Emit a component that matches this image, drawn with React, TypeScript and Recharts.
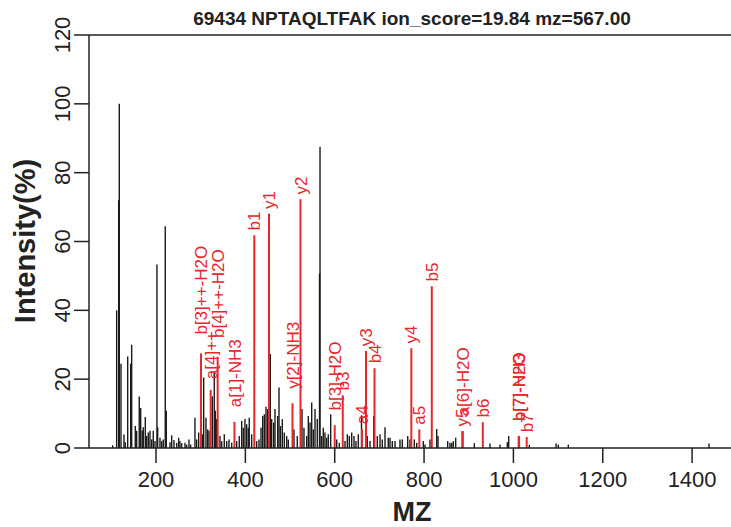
import { ComposedChart, XAxis, YAxis, ReferenceLine, Scatter } from 'recharts';

// unmatched peaks (black)
const peakMz = [
  103, 111.9, 116.4, 117.8, 121.6, 128.3, 131.2, 136.6, 143.3, 145.5, 153.6, 156.7, 162.5, 165.7,
  169.2, 171.5, 176, 179.1, 182.7, 186.5, 190.3, 193.9, 197.7, 202.1, 203.7, 208.9, 212.7, 216.3,
  220.7, 223, 231.3, 235.1, 240.2, 246.3, 250.7, 253.6, 257.4, 264.8, 268.6, 273.8, 277.6, 287.2,
  291, 295.5, 303.6, 306.7, 311.8, 315.6, 318.6, 326, 330.4, 332.7, 335.8, 343.2, 347, 352.8, 358.2,
  363.3, 369.4, 380.6, 386.4, 391.8, 395.3, 399.1, 402.9, 406.5, 408.7, 414.1, 425.3, 430.5, 435,
  438.8, 442.4, 446.2, 450, 455.8, 458.9, 463.4, 466.3, 472.4, 475.3, 478.6, 482.7, 487.1, 492.5,
  496.1, 508.8, 516.2, 526.8, 531.2, 537.3, 540.9, 544.7, 548.5, 552.1, 555.9, 561, 566, 567.1,
  570.9, 574.4, 578.2, 582, 585.6, 591, 604.4, 610.3, 623, 628.2, 632.7, 638, 643.2, 647.6, 652.8,
  660, 673, 679, 687.3, 695.3, 701.4, 706.5, 712.6, 719.9, 723.8, 728.9, 735, 746.1, 751.3, 763.4,
  768.5, 778.2, 783.5, 798.3, 802.1, 813.3, 828.3, 831.2, 852.9, 858.1, 861.9, 865.5, 870.8, 912.5,
  947.6, 970, 986.4, 989.5, 1035.6, 1095.4, 1100.5, 1122.9, 1437.9,
];
const peakIntensity = [
  0.8, 40, 72, 100, 24.5, 3.9, 1.7, 26.6, 24.5, 30, 6.4, 5, 15, 11.6,
  5, 6, 9, 3.5, 4.5, 5, 2.5, 5, 2, 53.3, 6, 3, 2, 2.5,
  64.4, 10.8, 1.7, 3.7, 2.3, 1.5, 3, 2, 1.4, 1.5, 1, 2.5, 1, 8.8,
  2.5, 4.5, 4, 20.5, 8.8, 5.4, 5, 15, 22, 10.8, 8.4, 3.5, 2, 4, 2,
  2.5, 1.5, 2, 3.5, 7.9, 5.9, 8.4, 6.9, 5.9, 8.8, 4, 2, 2.5, 5.9,
  9.3, 9.8, 12, 11.3, 27.3, 8.4, 7.4, 11.3, 9.3, 17.6, 6.4, 8.4, 4.5, 3.5,
  2.5, 5.4, 3.5, 11.3, 5.9, 3.5, 9.3, 7.4, 13.2, 5.4, 11.3, 8.4, 50.7, 87.5,
  3.5, 5.9, 4.5, 3, 4, 9.8, 2.5, 1.5, 2, 4, 3.5, 4.5, 3.5, 2, 4,
  9.5, 3.5, 2, 9.3, 3.5, 4, 2.5, 6, 3, 3, 2, 2, 2.5, 2.5, 3.5,
  2.5, 2.5, 1.5, 2, 1, 2.5, 5.5, 3.5, 2, 1.5, 1.5, 2, 3, 1.4,
  1.3, 1, 1.7, 3.5, 0.9, 1.3, 1, 1, 1.3,
];

// matched fragment ions (red)
const ionLabels = [
  'b[3]++-H2O', 'a[4]++', 'b[4]++-H2O', 'a[1]-NH3', 'b1', 'y1', 'y[2]-NH3', 'y2', 'b[3]-H2O', 'b3',
  'a4', 'y3', 'b4', 'y4', 'a5', 'b5', 'y5', 'a[6]-H2O', 'b6', 'b[7]-H2O', 'b[7]-NH3', 'b7',
];
const ionMz = [
  300.7, 322.4, 338, 375.6, 420, 452.9, 505.5, 523.4, 600, 618,
  661, 670, 689.1, 771.5, 789.4, 817.3, 885.6, 886.7, 931.5, 1011.7, 1012.7, 1029.7,
];
const ionIntensity = [
  27.5, 16.9, 26.5, 7.6, 61.8, 68.1, 13, 72.3, 6.6, 15.3,
  5.5, 28.2, 23.2, 29, 5.4, 47, 4.9, 4.9, 7.5, 3.5, 3.5, 3.2,
];

const xTicks = [200, 400, 600, 800, 1000, 1200, 1400];
const yTicks = [0, 20, 40, 60, 80, 100, 120];

const FONT = '"Liberation Sans", Arial, Helvetica, sans-serif';
const RED = '#e8262b';
const AXIS = '#222';
const LABEL_SIZE = 17;

const peaks = peakMz.map((mz, i) => ({ mz, intensity: peakIntensity[i] }));
const ions = ionMz.map((mz, i) => ({ mz, intensity: ionIntensity[i], label: ionLabels[i] }));

// rough Helvetica widths, used to lift long labels a bit more (like R's adj)
const charWidth: Record<string, number> = {
  '[': 0.278, ']': 0.278, '+': 0.584, '-': 0.333, H: 0.722, N: 0.722, O: 0.778, y: 0.5,
};
function textWidth(s: string) {
  let w = 0;
  for (const c of s) w += charWidth[c] ?? 0.556;
  return w * LABEL_SIZE;
}

function IonLabel(props: any) {
  const { cx, cy, payload } = props;
  if (cx == null || cy == null) return null;
  const y = cy - (0.2 * textWidth(payload.label) + 1);
  return (
    <text
      x={cx}
      y={y}
      dy="0.36em"
      transform={`rotate(-90, ${cx}, ${y})`}
      textAnchor="start"
      fill={RED}
      fontSize={LABEL_SIZE}
      fontFamily={FONT}
    >
      {payload.label}
    </text>
  );
}

function YTick(props: any) {
  const { x, y, payload } = props;
  return (
    <text
      x={x}
      y={y}
      transform={`rotate(-90, ${x}, ${y})`}
      textAnchor="middle"
      fill={AXIS}
      fontSize={22}
      fontFamily={FONT}
    >
      {payload.value}
    </text>
  );
}

export default function App() {
  return (
    <div
      style={{
        position: 'absolute',
        left: 0,
        top: 0,
        width: 731,
        height: 527,
        overflow: 'hidden',
        background: '#fff',
      }}
    >
      <ComposedChart width={740} height={527} margin={{ top: 35, right: 5, bottom: 0, left: 0 }}>
        <XAxis
          type="number"
          dataKey="mz"
          domain={[50, 1496]}
          ticks={xTicks}
          allowDataOverflow
          height={79}
          tickSize={15}
          tickMargin={8}
          tick={{ fontSize: 22, fill: AXIS, fontFamily: FONT }}
          axisLine={{ stroke: AXIS, strokeWidth: 1.5 }}
          tickLine={{ stroke: AXIS, strokeWidth: 1.5 }}
        />
        <YAxis
          type="number"
          dataKey="intensity"
          domain={[0, 120]}
          ticks={yTicks}
          allowDataOverflow
          width={89}
          tickSize={15}
          tickMargin={4}
          tick={<YTick />}
          axisLine={{ stroke: AXIS, strokeWidth: 1.5 }}
          tickLine={{ stroke: AXIS, strokeWidth: 1.5 }}
        />
        <ReferenceLine y={120} stroke={AXIS} strokeWidth={1.5} />
        {peaks.map((p, i) => (
          <ReferenceLine
            key={`p${i}`}
            segment={[
              { x: p.mz, y: 0 },
              { x: p.mz, y: p.intensity },
            ]}
            stroke="#1a1a1a"
            strokeWidth={1.4}
          />
        ))}
        {ions.map((p, i) => (
          <ReferenceLine
            key={`ion${i}`}
            segment={[
              { x: p.mz, y: 0 },
              { x: p.mz, y: p.intensity },
            ]}
            stroke={RED}
            strokeWidth={2}
          />
        ))}
        <Scatter data={ions} dataKey="intensity" shape={<IonLabel />} isAnimationActive={false} />
      </ComposedChart>
      <svg
        width={731}
        height={527}
        style={{ position: 'absolute', left: 0, top: 0, pointerEvents: 'none' }}
      >
        <text x={412} y={25} textAnchor="middle" fontSize={19} fontWeight="bold" fill={AXIS} fontFamily={FONT}>
          69434 NPTAQLTFAK ion_score=19.84 mz=567.00
        </text>
        <text x={412} y={521} textAnchor="middle" fontSize={27} fontWeight="bold" fill={AXIS} fontFamily={FONT}>
          MZ
        </text>
        <text
          x={35}
          y={241}
          transform="rotate(-90, 35, 241)"
          textAnchor="middle"
          fontSize={29}
          fontWeight="bold"
          fill={AXIS}
          fontFamily={FONT}
        >
          Intensity(%)
        </text>
      </svg>
    </div>
  );
}
